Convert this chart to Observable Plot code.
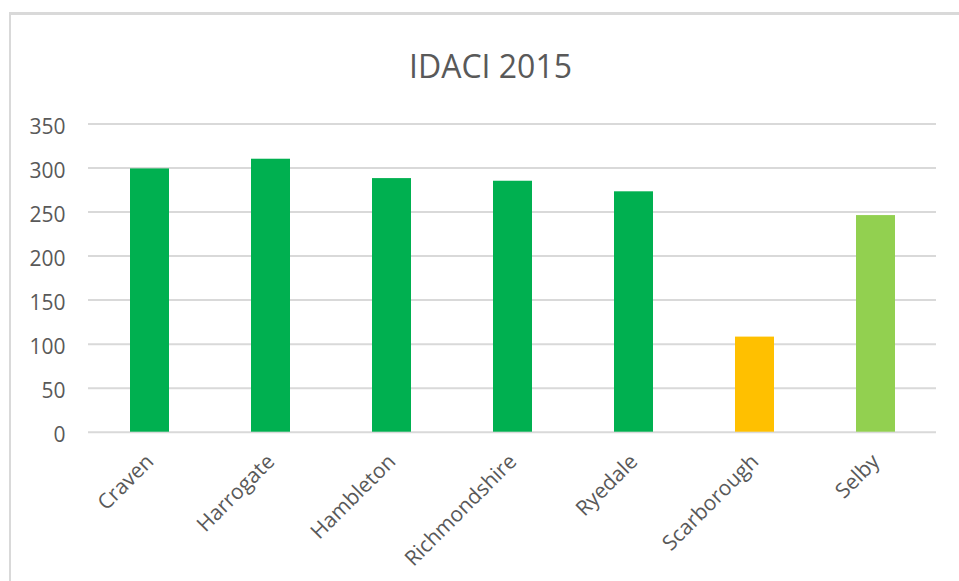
<!DOCTYPE html>
<html>
<head>
<meta charset="utf-8">
<script src="https://cdn.jsdelivr.net/npm/d3@7"></script>
<script src="https://cdn.jsdelivr.net/npm/@observablehq/plot@0.6"></script>
<style>
  html, body { margin: 0; padding: 0; background: #fff; }
  #wrap { position: relative; width: 959px; height: 581px; overflow: hidden; }
  #frame { position: absolute; left: 9px; top: 12px; width: 960px; height: 580px;
           border-top: 3px solid #d9d9d9; border-left: 2px solid #d9d9d9; box-sizing: border-box; }
  #chart { position: absolute; left: 0; top: 0; }
</style>
</head>
<body>
<div id="wrap"><div id="frame"></div><div id="chart"></div></div>
<script>
const title = "IDACI 2015";
const districts = ["Craven", "Harrogate", "Hambleton", "Richmondshire", "Ryedale", "Scarborough", "Selby"];
const values = [299, 310, 288, 285, 273, 108, 246];
const groups = ["high", "high", "high", "high", "high", "low", "mid"];
const yTicks = [0, 50, 100, 150, 200, 250, 300, 350];

const data = districts.map((d, i) => ({district: d, value: values[i], group: groups[i]}));

const font = "'Open Sans', 'DejaVu Sans', sans-serif";
const chart = Plot.plot({
  width: 959,
  height: 581,
  marginLeft: 88,
  marginRight: 23,
  marginTop: 123.5,
  marginBottom: 149.3,
  style: {fontFamily: font, background: "transparent", color: "#595959"},
  x: {domain: districts, paddingInner: 0.68, paddingOuter: 0.34, label: null},
  y: {domain: [0, 350], label: null},
  color: {domain: ["high", "low", "mid"], range: ["#00B050", "#FFC000", "#92D050"]},
  marks: [
    Plot.gridY(yTicks, {stroke: "#d9d9d9", strokeOpacity: 1, strokeWidth: 2}),
    Plot.barY(data, {x: "district", y: "value", fill: "group"}),
    Plot.axisY({ticks: yTicks, tickSize: 0, tickPadding: 23, fontSize: 21, fill: "#595959", dy: 3, label: null}),
    Plot.axisX({tickSize: 0, tickRotate: -45, fontSize: 21, fill: "#595959", dx: 0, dy: 14, label: null}),
    Plot.text([title], {frameAnchor: "top", dx: -22, dy: -56.7, fontSize: 32, fill: "#595959", lineAnchor: "middle"})
  ]
});
document.getElementById("chart").appendChild(chart);
</script>
</body>
</html>
